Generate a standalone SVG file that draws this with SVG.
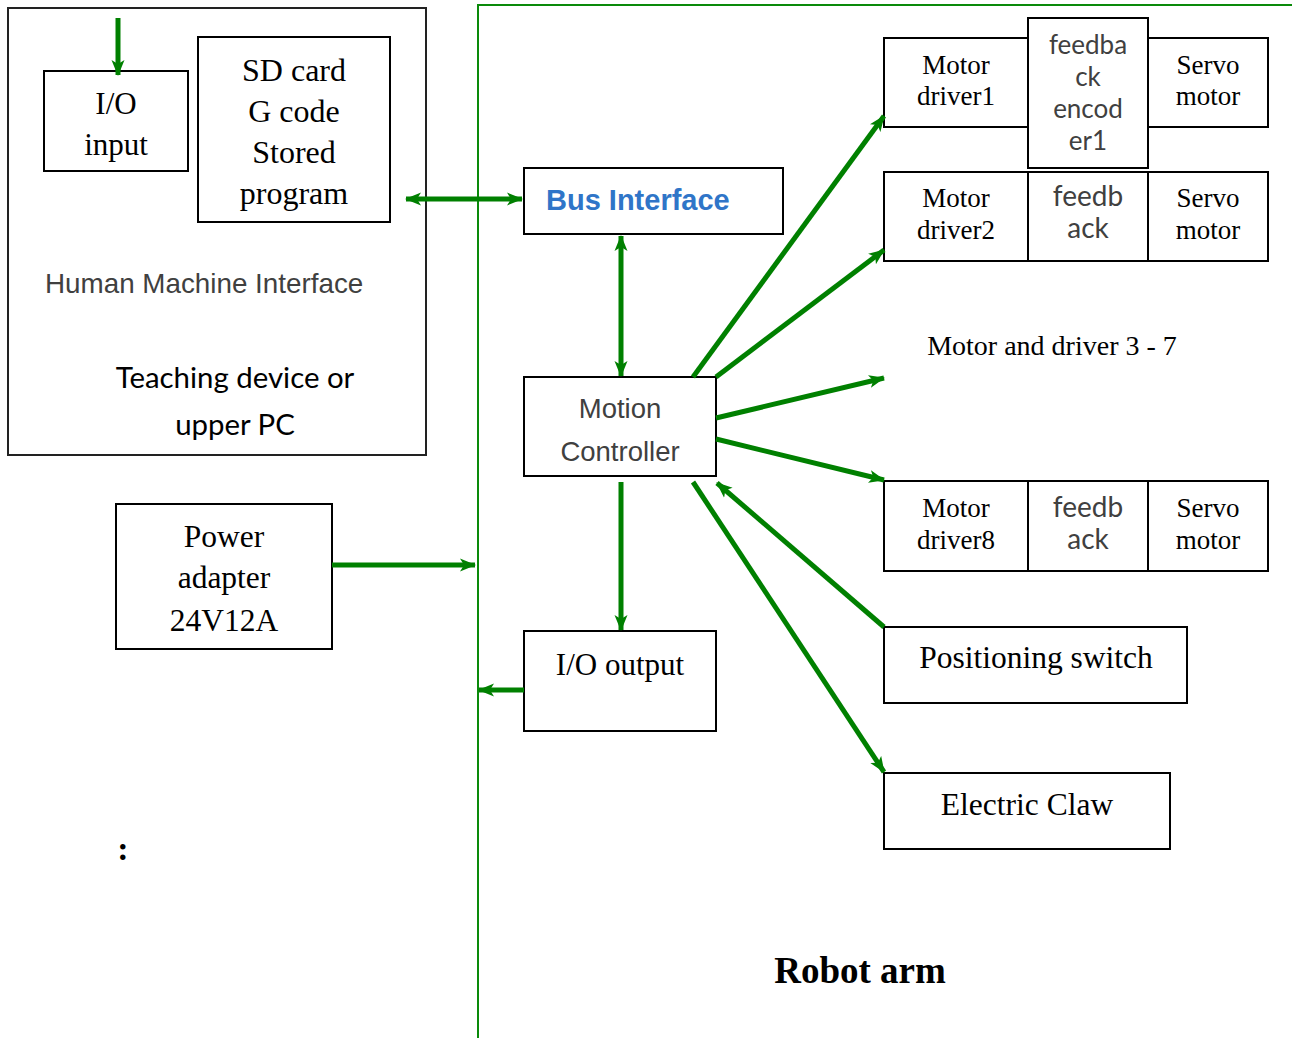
<svg xmlns="http://www.w3.org/2000/svg" width="1292" height="1038" viewBox="0 0 1292 1038">
  <style>
    .box { fill: #ffffff; stroke: #000000; stroke-width: 2; }
    .frame { fill: none; stroke: #222222; stroke-width: 2; }
    .bus { fill: none; stroke: #0a8a0a; stroke-width: 2; }
    .wire { fill: none; stroke: #008000; stroke-width: 5; }
    .serif { font-family: "Liberation Serif", "Times New Roman", serif; fill: #000000; text-anchor: middle; }
    .sans { font-family: "Liberation Sans", Arial, sans-serif; fill: #404040; }
    .soft { font-family: Lato, "Open Sans", sans-serif; fill: #404040; text-anchor: middle; }
    .dark { fill: #000000; }
  </style>
  <defs>
    <marker id="head" viewBox="0 -7 16 14" refX="15" refY="0" markerWidth="16" markerHeight="14" markerUnits="userSpaceOnUse" orient="auto-start-reverse">
      <path d="M0,-6.5 L16,0 L0,6.5 L4,0 Z" fill="#008000"/>
    </marker>
  </defs>

  <rect width="1292" height="1038" fill="#ffffff"/>

  <!-- robot arm bus boundary -->
  <g id="robot-arm-bus">
    <path class="bus" d="M478,1038 V5 H1292"/>
    <text class="serif" x="860" y="983" font-size="37" font-weight="bold">Robot arm</text>
  </g>

  <!-- human machine interface -->
  <g id="hmi">
    <rect class="frame" x="8" y="8" width="418" height="447"/>
    <text class="sans" x="45" y="293" font-size="27.8">Human Machine Interface</text>
    <text class="soft dark" x="235" y="388" font-size="29.4">Teaching device or</text>
    <text class="soft dark" x="235" y="435" font-size="29.4">upper PC</text>
  </g>

  <g id="io-input">
    <rect class="box" x="44" y="71" width="144" height="100"/>
    <text class="serif" x="116" y="114" font-size="31">I/O</text>
    <text class="serif" x="116" y="155" font-size="31">input</text>
  </g>

  <g id="sd-card">
    <rect class="box" x="198" y="37" width="192" height="185"/>
    <text class="serif" x="294" y="81" font-size="32">SD card</text>
    <text class="serif" x="294" y="122" font-size="32">G code</text>
    <text class="serif" x="294" y="163" font-size="32">Stored</text>
    <text class="serif" x="294" y="204" font-size="32">program</text>
  </g>

  <g id="power-adapter">
    <rect class="box" x="116" y="504" width="216" height="145"/>
    <text class="serif" x="224" y="547" font-size="31.5">Power</text>
    <text class="serif" x="224" y="588" font-size="31.5">adapter</text>
    <text class="serif" x="224" y="631" font-size="31.5">24V12A</text>
  </g>

  <g id="colon-mark">
    <text class="serif" x="123" y="860" font-size="34" font-weight="bold">:</text>
  </g>

  <g id="bus-interface">
    <rect class="box" x="524" y="168" width="259" height="66"/>
    <text x="546" y="210" font-family="Liberation Sans, Arial, sans-serif" font-size="29" font-weight="bold" fill="#2f75c8">Bus Interface</text>
  </g>

  <g id="motion-controller">
    <rect class="box" x="524" y="377" width="192" height="99"/>
    <text class="sans" x="620" y="418" font-size="27.5" text-anchor="middle">Motion</text>
    <text class="sans" x="620" y="461" font-size="27.5" text-anchor="middle">Controller</text>
  </g>

  <g id="io-output">
    <rect class="box" x="524" y="631" width="192" height="100"/>
    <text class="serif" x="620" y="675" font-size="31">I/O output</text>
  </g>

  <!-- axis 1 -->
  <g id="motor-1">
    <rect class="box" x="884" y="38" width="144" height="89"/>
    <rect class="box" x="1148" y="38" width="120" height="89"/>
    <rect class="box" x="1028" y="18" width="120" height="150"/>
    <text class="serif" x="956" y="74" font-size="27">Motor</text>
    <text class="serif" x="956" y="105" font-size="27">driver1</text>
    <text class="soft" x="1088" y="54" font-size="26">feedba</text>
    <text class="soft" x="1088" y="86" font-size="26">ck</text>
    <text class="soft" x="1088" y="118" font-size="26">encod</text>
    <text class="soft" x="1088" y="150" font-size="26">er1</text>
    <text class="serif" x="1208" y="74" font-size="27">Servo</text>
    <text class="serif" x="1208" y="105" font-size="27">motor</text>
  </g>

  <!-- axis 2 -->
  <g id="motor-2">
    <rect class="box" x="884" y="172" width="384" height="89"/>
    <line class="box" x1="1028" y1="172" x2="1028" y2="261"/>
    <line class="box" x1="1148" y1="172" x2="1148" y2="261"/>
    <text class="serif" x="956" y="207" font-size="27">Motor</text>
    <text class="serif" x="956" y="239" font-size="27">driver2</text>
    <text class="soft" x="1088" y="206" font-size="28">feedb</text>
    <text class="soft" x="1088" y="238" font-size="28">ack</text>
    <text class="serif" x="1208" y="207" font-size="27">Servo</text>
    <text class="serif" x="1208" y="239" font-size="27">motor</text>
  </g>

  <g id="motor-3-7">
    <text class="serif" x="1052" y="355" font-size="28">Motor and driver 3 - 7</text>
  </g>

  <!-- axis 8 -->
  <g id="motor-8">
    <rect class="box" x="884" y="481" width="384" height="90"/>
    <line class="box" x1="1028" y1="481" x2="1028" y2="571"/>
    <line class="box" x1="1148" y1="481" x2="1148" y2="571"/>
    <text class="serif" x="956" y="517" font-size="27">Motor</text>
    <text class="serif" x="956" y="549" font-size="27">driver8</text>
    <text class="soft" x="1088" y="517" font-size="28">feedb</text>
    <text class="soft" x="1088" y="549" font-size="28">ack</text>
    <text class="serif" x="1208" y="517" font-size="27">Servo</text>
    <text class="serif" x="1208" y="549" font-size="27">motor</text>
  </g>

  <g id="positioning-switch">
    <rect class="box" x="884" y="627" width="303" height="76"/>
    <text class="serif" x="1036" y="668" font-size="31.5">Positioning switch</text>
  </g>

  <g id="electric-claw">
    <rect class="box" x="884" y="773" width="286" height="76"/>
    <text class="serif" x="1027" y="815" font-size="31.5">Electric Claw</text>
  </g>

  <!-- signal and power connections -->
  <g id="connectors">
    <line class="wire" x1="118" y1="18" x2="118" y2="75" marker-end="url(#head)"/>
    <line class="wire" x1="406" y1="199" x2="522" y2="199" marker-start="url(#head)" marker-end="url(#head)"/>
    <line class="wire" x1="332" y1="565" x2="475" y2="565" marker-end="url(#head)"/>
    <line class="wire" x1="524" y1="690" x2="479" y2="690" marker-end="url(#head)"/>
    <line class="wire" x1="621" y1="236" x2="621" y2="376" marker-start="url(#head)" marker-end="url(#head)"/>
    <line class="wire" x1="621" y1="482" x2="621" y2="630" marker-end="url(#head)"/>
    <line class="wire" x1="693" y1="377" x2="884" y2="116" marker-end="url(#head)"/>
    <line class="wire" x1="716" y1="377" x2="884" y2="250" marker-end="url(#head)"/>
    <line class="wire" x1="716" y1="418" x2="884" y2="378" marker-end="url(#head)"/>
    <line class="wire" x1="716" y1="439" x2="884" y2="480" marker-end="url(#head)"/>
    <line class="wire" x1="884" y1="627" x2="717" y2="483" marker-end="url(#head)"/>
    <line class="wire" x1="693" y1="482" x2="884" y2="772" marker-end="url(#head)"/>
  </g>
</svg>
